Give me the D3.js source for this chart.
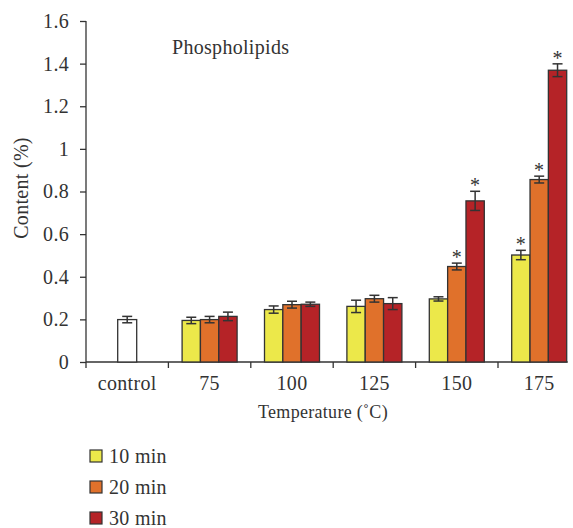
<!DOCTYPE html>
<html>
<head>
<meta charset="utf-8">
<script src="https://cdn.jsdelivr.net/npm/d3@7"></script>
<style>
  body { margin: 0; background: #fff; }
  text { font-family: "Liberation Serif", serif; fill: #333; letter-spacing: 0.3px; }
</style>
</head>
<body>
<svg id="chart" width="573" height="528"></svg>
<script>
// ---- data ----
const categories = ["control", "75", "100", "125", "150", "175"]
const series = ["10 min", "20 min", "30 min"]
const controlValue = 0.199
const controlErr = 0.015
const values = [
    [0.195, 0.199, 0.214],   // 75
    [0.246, 0.269, 0.271],   // 100
    [0.261, 0.297, 0.274],   // 125
    [0.296, 0.448, 0.756],   // 150
    [0.502, 0.856, 1.369]    // 175
]
const errors = [
    [0.015, 0.015, 0.020],
    [0.017, 0.016, 0.010],
    [0.029, 0.016, 0.028],
    [0.010, 0.016, 0.045],
    [0.022, 0.016, 0.030]
]
const stars = [
    [false, false, false],
    [false, false, false],
    [false, false, false],
    [false, true, true],
    [true, true, true]
]
const yTicks = [0, 0.2, 0.4, 0.6, 0.8, 1, 1.2, 1.4, 1.6]
const colors = ["#ece84a", "#e0712b", "#b52327"]

// ---- layout ----
const margin = { top: 21, left: 86, bottom: 362 }
const bandW = 82.4
const groupW = 55
const fontSize = "20px"
const svg = d3.select("#chart")

let xScale = d3.scaleBand()
    .domain(categories)
    .range([margin.left, margin.left + bandW * categories.length])
let xInner = d3.scaleBand()
    .domain(series)
    .range([0, groupW])
let yScale = d3.scaleLinear()
    .domain([0, 1.6])
    .range([margin.bottom, margin.top])

const groupOffset = (xScale.bandwidth() - groupW) / 2
const axisEnd = xScale("175") + groupOffset + groupW + 1

// y axis
let yAxis = svg.append("g")
    .attr("transform", "translate(" + margin.left + ",0)")
    .call(d3.axisLeft(yScale).tickValues(yTicks).tickSize(6).tickPadding(11)
        .tickFormat(d => String(+d.toFixed(1))))
yAxis.select(".domain").remove()
yAxis.selectAll("line").attr("stroke", "#333").attr("stroke-width", 1.3)
yAxis.selectAll("text").attr("font-size", fontSize).attr("fill", "#333")
    .attr("font-family", "Liberation Serif, serif")
svg.append("line")
    .attr("x1", margin.left).attr("x2", margin.left)
    .attr("y1", yScale(1.6)).attr("y2", margin.bottom + 6)
    .attr("stroke", "#333").attr("stroke-width", 1.3)

// x axis
svg.append("line")
    .attr("x1", margin.left).attr("x2", axisEnd)
    .attr("y1", margin.bottom).attr("y2", margin.bottom)
    .attr("stroke", "#333").attr("stroke-width", 1.3)
svg.selectAll(".xtick")
    .data(categories.slice(1))
    .enter()
    .append("line")
    .attr("class", "xtick")
    .attr("x1", d => xScale(d)).attr("x2", d => xScale(d))
    .attr("y1", margin.bottom).attr("y2", margin.bottom + 6)
    .attr("stroke", "#333").attr("stroke-width", 1.3)
svg.selectAll(".xlabel")
    .data(categories)
    .enter()
    .append("text")
    .attr("class", "xlabel")
    .attr("x", d => xScale(d) + xScale.bandwidth() / 2)
    .attr("y", margin.bottom + 28)
    .attr("text-anchor", "middle")
    .attr("font-size", fontSize)
    .text(d => d)

// axis titles
svg.append("text")
    .attr("x", 323).attr("y", 418)
    .attr("text-anchor", "middle")
    .attr("font-size", "18px")
    .text("Temperature (˚C)")
svg.append("text")
    .attr("transform", "translate(28,188) rotate(-90)")
    .attr("text-anchor", "middle")
    .attr("font-size", fontSize)
    .text("Content (%)")
svg.append("text")
    .attr("x", 172).attr("y", 54)
    .attr("font-size", fontSize)
    .text("Phospholipids")

// control bar
const ctrlW = 19
const ctrlX = xScale("control") + (xScale.bandwidth() - ctrlW) / 2
svg.append("rect")
    .attr("x", ctrlX).attr("width", ctrlW)
    .attr("y", yScale(controlValue))
    .attr("height", margin.bottom - yScale(controlValue))
    .attr("fill", "white").attr("stroke", "#333").attr("stroke-width", 1.3)

function errorBar(cx, v, e) {
    const g = svg.append("g").attr("stroke", "#333").attr("stroke-width", 1.5)
    g.append("line").attr("x1", cx).attr("x2", cx)
        .attr("y1", yScale(v + e)).attr("y2", yScale(v - e))
    g.append("line").attr("x1", cx - 5).attr("x2", cx + 5)
        .attr("y1", yScale(v + e)).attr("y2", yScale(v + e))
    g.append("line").attr("x1", cx - 5).attr("x2", cx + 5)
        .attr("y1", yScale(v - e)).attr("y2", yScale(v - e))
}
errorBar(ctrlX + ctrlW / 2, controlValue, controlErr)

// grouped bars
categories.slice(1).forEach((cat, ci) => {
    const gx = xScale(cat) + groupOffset
    series.forEach((s, si) => {
        const v = values[ci][si]
        const e = errors[ci][si]
        const bx = gx + xInner(s)
        svg.append("rect")
            .attr("x", bx).attr("width", xInner.bandwidth())
            .attr("y", yScale(v))
            .attr("height", margin.bottom - yScale(v))
            .attr("fill", colors[si])
            .attr("stroke", "#333").attr("stroke-width", 1.3)
        errorBar(bx + xInner.bandwidth() / 2, v, e)
        if (stars[ci][si]) {
            svg.append("text")
                .attr("x", bx + xInner.bandwidth() / 2)
                .attr("y", yScale(v + e) + 1)
                .attr("text-anchor", "middle")
                .attr("font-size", fontSize)
                .text("*")
        }
    })
})

// legend
const legend = svg.selectAll(".legend")
    .data(series)
    .enter()
    .append("g")
    .attr("class", "legend")
    .attr("transform", (d, i) => "translate(90," + (450 + i * 31) + ")")
legend.append("rect")
    .attr("width", 12).attr("height", 12)
    .attr("fill", (d, i) => colors[i])
    .attr("stroke", "#333").attr("stroke-width", 1.2)
legend.append("text")
    .attr("x", 19).attr("y", 12.5)
    .attr("font-size", fontSize)
    .text(d => d)
</script>
</body>
</html>
